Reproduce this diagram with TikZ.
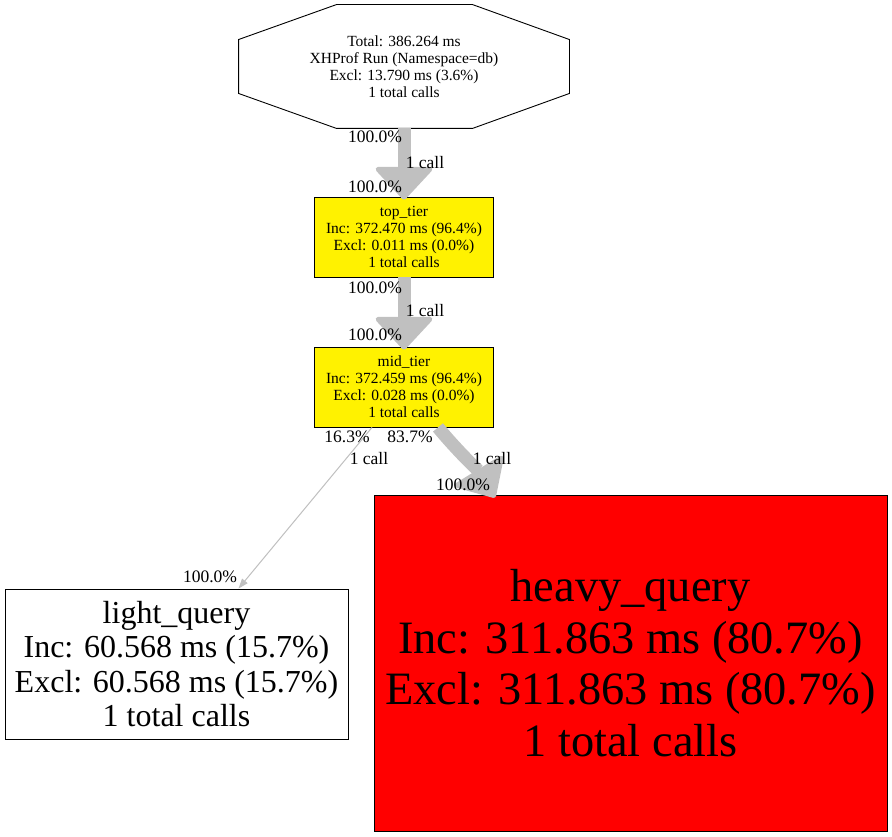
\documentclass[tikz,border=0pt]{standalone}
\usepackage{fontspec}
\setmainfont{Liberation Serif}
\usetikzlibrary{arrows.meta}

\begin{document}
\begin{tikzpicture}[
					x = 1pt, y = -1pt,
					fnbox/.style = {
						shape = rectangle,
						draw,
						line width = 0.9pt,
						fill = yellow,
						align = center,
						inner sep = 0pt,
						minimum width = 179pt,
						minimum height = 80pt,
						font = \fontsize{15.5}{17}\selectfont,
					},
					lbl/.style = {
						inner sep = 0pt,
						font = \fontsize{17.5}{19}\selectfont,
					},
					bigedge/.style = {
						draw = edgegray,
						line width = 13pt,
						-{Triangle[length = 34pt, width = 62pt, line width = 5pt, round]},
					},
					thinedge/.style = {
						draw = edgegray,
						line width = 1pt,
						-{Triangle[length = 10pt, width = 7pt]},
					},
			]
				\definecolor{edgegray}{RGB}{192,192,192}
				\fill [white] (0, 0) rectangle (892, 837);
				\useasboundingbox (0, 0) rectangle (892, 837);

				\draw (404, 66.5) node (total) [fnbox, draw = none, fill = none, minimum width = 330pt, minimum height = 123pt]
					{Total: 386.264 ms\\XHProf Run (Namespace=db)\\Excl: 13.790 ms (3.6\%)\\1 total calls};
				\draw [line width = 0.9pt] ([xshift = 98pt]total.north west) -- ([xshift = -97pt]total.north east)
					-- ([yshift = -35pt]total.north east) -- ([yshift = 35pt]total.south east)
					-- ([xshift = -97pt]total.south east) -- ([xshift = 98pt]total.south west)
					-- ([yshift = 35pt]total.south west) -- ([yshift = -35pt]total.north west) -- cycle;
				\draw (404, 237) node (top) [fnbox]
					{top\_tier\\Inc: 372.470 ms (96.4\%)\\Excl: 0.011 ms (0.0\%)\\1 total calls};
				\draw (404, 387) node (mid) [fnbox]
					{mid\_tier\\Inc: 372.459 ms (96.4\%)\\Excl: 0.028 ms (0.0\%)\\1 total calls};
				\draw (176.5, 664) node (light) [fnbox, fill = white, minimum width = 343pt, minimum height = 150pt,
					font = \fontsize{32}{34.5}\selectfont]
					{light\_query\\Inc: 60.568 ms (15.7\%)\\Excl: 60.568 ms (15.7\%)\\1 total calls};
				\draw (630.5, 663) node (heavy) [fnbox, fill = red, minimum width = 513pt, minimum height = 336pt,
					font = \fontsize{46.4}{51.5}\selectfont]
					{heavy\_query\\Inc: 311.863 ms (80.7\%)\\Excl: 311.863 ms (80.7\%)\\1 total calls};

				\draw [bigedge] (total.south) -- ([yshift = -3pt]top.north);
				\draw [bigedge] (top.south) -- ([yshift = -3pt]mid.north);
				\draw [thinedge] ([xshift = -32pt]mid.south) -- ([xshift = 62pt]light.north);
				\draw [bigedge] ([xshift = 34pt]mid.south) .. controls +(19, 23) and +(-16, -26) .. ([xshift = -135.5pt, yshift = -3pt]heavy.north);

				\draw (375, 137) node (pct1t) [lbl] {100.0\%};
				\draw (425, 163) node (call1) [lbl] {1 call};
				\draw (375, 187) node (pct1h) [lbl] {100.0\%};
				\draw (375, 288) node (pct2t) [lbl] {100.0\%};
				\draw (425, 311) node (call2) [lbl] {1 call};
				\draw (375, 335) node (pct2h) [lbl] {100.0\%};
				\draw (347, 437) node (pct3t) [lbl] {16.3\%};
				\draw (410, 437) node (pct4t) [lbl] {83.7\%};
				\draw (369, 459) node (call3) [lbl] {1 call};
				\draw (492, 459) node (call4) [lbl] {1 call};
				\draw (463, 485) node (pct4h) [lbl] {100.0\%};
				\draw (210, 577) node (pct3h) [lbl] {100.0\%};
			\end{tikzpicture}
\end{document}
